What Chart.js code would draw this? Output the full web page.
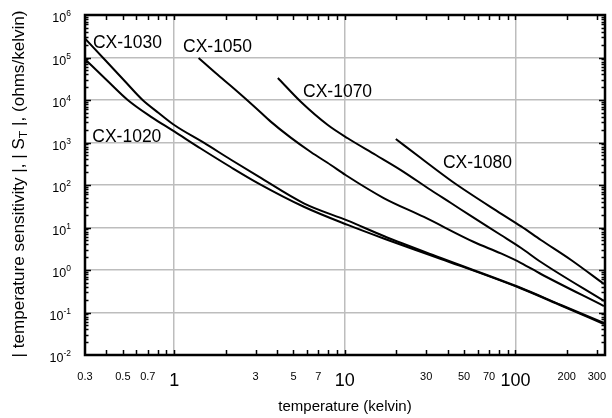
<!DOCTYPE html>
<html><head><meta charset="utf-8">
<script src="https://cdn.jsdelivr.net/npm/chart.js@4/dist/chart.umd.min.js"></script>
<style>html,body{margin:0;padding:0;background:#fff}</style>
</head><body>
<canvas id="c" width="612" height="418"></canvas>
<script>
// ---- data (temperature in kelvin, |S_T| in ohms/kelvin) ----
const cx1020T = [0.3, 0.396, 0.534, 0.728, 1.0, 1.43, 2.14, 3.13, 5.75, 10.4, 16.9, 36.6, 108, 185, 330];
const cx1020S = [9.1e4, 3.12e4, 1.0e4, 4.07e3, 1.82e3, 722, 265, 108, 30.8, 11.5, 5.51, 1.82, 0.367, 0.146, 0.0536];
const cx1030T = [0.3, 0.396, 0.519, 0.653, 0.811, 1.0, 1.49, 2.14, 3.13, 5.75, 10.4, 16.9, 36.6, 108, 185, 330];
const cx1030S = [2.8e5, 8.5e4, 2.65e4, 1.0e4, 4.94e3, 2.58e3, 989, 398, 157, 37.1, 14.5, 6.31, 1.91, 0.377, 0.150, 0.0566];
const cx1050T = [1.39, 1.75, 2.29, 3.01, 3.68, 4.82, 6.32, 8.28, 10.1, 16.9, 29.1, 57.1, 82.2, 108, 141, 330];
const cx1050S = [9.7e4, 4.3e4, 1.72e4, 6.5e3, 3.1e3, 1.3e3, 597, 296, 172, 49.4, 17.7, 4.56, 2.45, 1.46, 0.805, 0.142];
const cx1070T = [4.05, 5.52, 7.95, 10.4, 15.2, 21.3, 31.9, 41.9, 54.8, 82.2, 108, 141, 330];
const cx1070S = [3.3e4, 9.1e3, 2.58e3, 1.26e3, 508, 225, 76.2, 37.7, 18.7, 6.66, 3.30, 1.54, 0.187];
const cx1080T = [19.9, 27.9, 43.0, 82.2, 108, 141, 212, 330];
const cx1080S = [1.21e3, 431, 118, 21.3, 10.6, 5.08, 1.72, 0.469];

const seriesNames = ['CX-1020', 'CX-1030', 'CX-1050', 'CX-1070', 'CX-1080'];
const xTickValues = [0.3, 0.5, 0.7, 1, 3, 5, 7, 10, 30, 50, 70, 100, 200, 300];
const xTickLabels = ['0.3', '0.5', '0.7', '1', '3', '5', '7', '10', '30', '50', '70', '100', '200', '300'];
const xBigTicks = [1, 10, 100];
const yExponents = [-2, -1, 0, 1, 2, 3, 4, 5, 6];
const xTitle = 'temperature (kelvin)';
const yTitleParts = ['| temperature sensitivity |, | S', 'T', ' |, (ohms/kelvin)'];
// label anchors (temperature, sensitivity): left edge / vertical middle of each curve label
const labelAnchors = [
  {text: 'CX-1030', t: 0.334, s: 2.19e5},
  {text: 'CX-1050', t: 1.126, s: 1.77e5},
  {text: 'CX-1020', t: 0.331, s: 1.35e3},
  {text: 'CX-1070', t: 5.69, s: 1.54e4},
  {text: 'CX-1080', t: 37.6, s: 3.3e2}
];

const FONT = '"Liberation Sans", Arial, sans-serif';
const toPts = (xs, ys) => xs.map((x, i) => ({x, y: ys[i]}));
const allT = [cx1020T, cx1030T, cx1050T, cx1070T, cx1080T];
const allS = [cx1020S, cx1030S, cx1050S, cx1070S, cx1080S];

const isDecade = v => Math.abs(Math.log10(v) - Math.round(Math.log10(v))) < 1e-9;
const X_MIN = 0.3, X_MAX = 335, Y_MIN = 0.01, Y_MAX = 1e6;

const decor = {
  id: 'decor',
  afterDraw(chart) {
    const ctx = chart.ctx, xs = chart.scales.x, ys = chart.scales.y;
    const a = chart.chartArea;
    ctx.save();
    ctx.strokeStyle = '#000';
    // inward ticks on all four sides
    ctx.lineWidth = 1.5;
    ctx.beginPath();
    for (let e = -2; e < 6; e++) {
      for (let n = 1; n <= 9; n++) {
        const v = n * Math.pow(10, e);
        if (v <= Y_MIN * 1.01 || v >= Y_MAX * 0.99) continue;
        const y = Math.round(ys.getPixelForValue(v)) + 0.5;
        const len = n === 1 ? 6 : 3.5;
        ctx.moveTo(a.left, y); ctx.lineTo(a.left + len, y);
        ctx.moveTo(a.right, y); ctx.lineTo(a.right - len, y);
      }
    }
    for (let e = -1; e <= 2; e++) {
      for (let n = 1; n <= 9; n++) {
        const v = n * Math.pow(10, e);
        if (v <= X_MIN * 1.01 || v >= X_MAX * 0.99) continue;
        const x = Math.round(xs.getPixelForValue(v)) + 0.5;
        ctx.moveTo(x, a.bottom); ctx.lineTo(x, a.bottom - 5);
        ctx.moveTo(x, a.top); ctx.lineTo(x, a.top + 5);
      }
    }
    ctx.stroke();
    // frame
    ctx.lineWidth = 2.5;
    ctx.strokeRect(a.left, a.top, a.right - a.left, a.bottom - a.top);

    ctx.fillStyle = '#000';
    // y tick labels: 10 with superscript exponent
    yExponents.forEach(e => {
      const y = ys.getPixelForValue(Math.pow(10, e));
      const exp = String(e);
      ctx.font = '8.5px ' + FONT;
      const ew = ctx.measureText(exp).width;
      ctx.textAlign = 'left';
      ctx.textBaseline = 'middle';
      const right = 71;
      ctx.fillText(exp, right - ew, y - 1);
      ctx.font = '12.5px ' + FONT;
      ctx.textAlign = 'right';
      ctx.fillText('10', right - ew, y + 4);
    });
    // x title
    ctx.font = '15px ' + FONT;
    ctx.textAlign = 'center';
    ctx.textBaseline = 'middle';
    ctx.fillText(xTitle, (a.left + a.right) / 2, 407);
    // y title (rotated) with subscript T
    ctx.save();
    ctx.translate(20, 184);
    ctx.rotate(-Math.PI / 2);
    ctx.textAlign = 'left';
    ctx.textBaseline = 'middle';
    const fMain = '16px ' + FONT, fSub = '11.5px ' + FONT;
    ctx.font = fMain; const w1 = ctx.measureText(yTitleParts[0]).width, w3 = ctx.measureText(yTitleParts[2]).width;
    ctx.font = fSub; const w2 = ctx.measureText(yTitleParts[1]).width;
    const W = w1 + w2 + w3;
    ctx.scale(347 / W, 1);
    const x0 = -W / 2;
    ctx.font = fMain; ctx.fillText(yTitleParts[0], x0, 0);
    ctx.font = fSub; ctx.fillText(yTitleParts[1], x0 + w1, 4);
    ctx.font = fMain; ctx.fillText(yTitleParts[2], x0 + w1 + w2, 0);
    ctx.restore();
    // curve labels
    ctx.font = '17.5px ' + FONT;
    ctx.textAlign = 'left';
    ctx.textBaseline = 'middle';
    labelAnchors.forEach(l => {
      ctx.fillText(l.text, xs.getPixelForValue(l.t), ys.getPixelForValue(l.s));
    });
    ctx.restore();
  }
};

new Chart(document.getElementById('c'), {
  type: 'scatter',
  data: {
    datasets: seriesNames.map((name, i) => ({
      label: name,
      data: toPts(allT[i], allS[i]),
      showLine: true,
      borderColor: '#000',
      borderWidth: 2,
      pointRadius: 0,
      cubicInterpolationMode: 'monotone',
      fill: false
    }))
  },
  options: {
    responsive: false,
    animation: false,
    devicePixelRatio: 1,
    layout: {padding: {left: 0, right: 7, top: 15, bottom: 0}},
    plugins: {legend: {display: false}, tooltip: {enabled: false}},
    scales: {
      x: {
        type: 'logarithmic', min: X_MIN, max: X_MAX, position: 'bottom',
        border: {display: false},
        grid: {
          drawTicks: false,
          lineWidth: 1.5,
          color: c => (c.tick && isDecade(c.tick.value)) ? '#bdbdbd' : 'rgba(0,0,0,0)'
        },
        afterBuildTicks: s => { s.ticks = xTickValues.map(v => ({value: v})); },
        afterFit: s => { s.height = 63; s.paddingLeft = 0; s.paddingRight = 0; },
        ticks: {
          autoSkip: false, maxRotation: 0, minRotation: 0, padding: 15, color: '#000',
          font: c => ({family: FONT, size: (c.tick && xBigTicks.includes(c.tick.value)) ? 18 : 11}),
          callback: (v, i) => xTickLabels[i]
        }
      },
      y: {
        type: 'logarithmic', min: Y_MIN, max: Y_MAX, position: 'left',
        border: {display: false},
        grid: {
          drawTicks: false,
          lineWidth: 1.5,
          color: c => (c.tick && c.tick.value > Y_MIN * 1.1 && c.tick.value < Y_MAX * 0.9) ? '#bdbdbd' : 'rgba(0,0,0,0)'
        },
        afterBuildTicks: s => { s.ticks = yExponents.map(e => ({value: Math.pow(10, e)})); },
        afterFit: s => { s.width = 85; s.paddingTop = 0; s.paddingBottom = 0; },
        ticks: {display: false}
      }
    }
  },
  plugins: [decor]
});
</script>
</body></html>
